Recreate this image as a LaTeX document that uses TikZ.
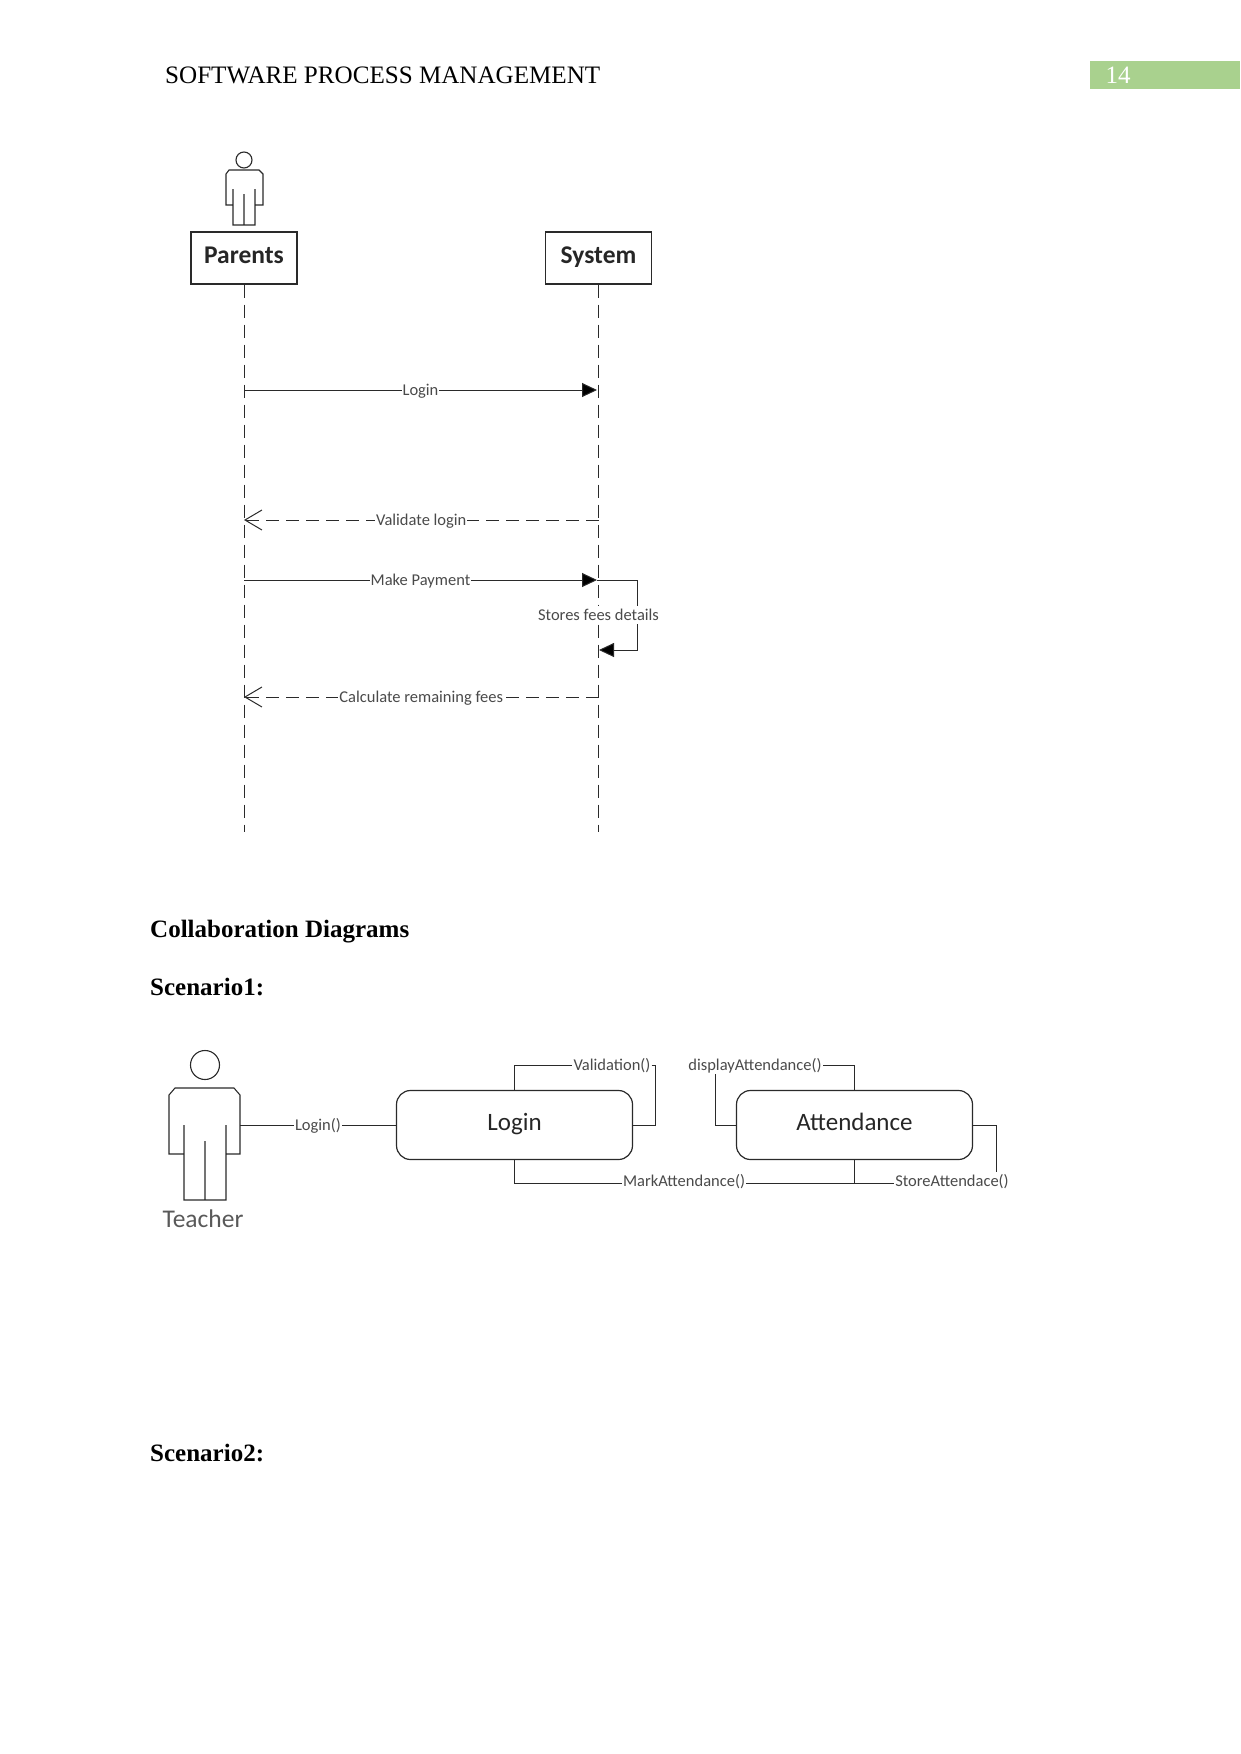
\documentclass[tikz,border=0pt]{standalone}
\usepackage{fontspec}
\setmainfont{Liberation Serif}
\newfontfamily\umlfont{Carlito}
\usetikzlibrary{arrows.meta}
\definecolor{bargreen}{HTML}{A9D18E}
\definecolor{umlline}{HTML}{2A2A2A}
\definecolor{msgtext}{HTML}{4A4A4A}
\begin{document}
\begin{tikzpicture}[
        x=1pt, y=-1pt,
        heading/.style={anchor=west, inner sep=0pt, font=\fontsize{25}{30}\selectfont\bfseries},
        actorline/.style={draw=umlline, line width=1.1pt},
        lifebox/.style={rectangle, draw=umlline, line width=1.3pt, minimum width=106pt, minimum height=52pt, text height=16pt, text depth=5pt, font=\umlfont\fontsize{25.5}{30}\selectfont\bfseries, text=black!85},
        statebox/.style={rectangle, rounded corners=14pt, draw=umlline, line width=1.2pt, minimum width=236pt, minimum height=69pt, text height=17pt, text depth=6pt, font=\umlfont\fontsize{25}{30}\selectfont, text=black!85},
        msg/.style={fill=white, inner sep=1pt, text height=14pt, text depth=2.5pt, text=msgtext, font=\umlfont\fontsize{16.5}{19}\selectfont},
        lifeline/.style={draw=umlline, line width=0.8pt, dash pattern=on 13pt off 7pt},
        link/.style={draw=umlline, line width=1pt},
        call/.style={link, -{Triangle[length=15pt, width=14pt, fill=black]}},
        reply/.style={link, dash pattern=on 13pt off 7pt, -{Straight Barb[length=17pt, width=20pt]}}
    ]
    \useasboundingbox (0,0) rectangle (1241,1754);

    % Page header
    \fill[bargreen] (1090,61) rectangle (1240,89);
    \node[anchor=west, inner sep=0pt, font=\fontsize{25.1}{30}\selectfont] (header) at (165,75) {SOFTWARE PROCESS MANAGEMENT};
    \node[text=white, inner sep=0pt, font=\fontsize{25}{30}\selectfont] (pageno) at (1118,75) {14};

    % Sequence diagram
    \draw[actorline] (244,160) circle (8);
    \draw[actorline] (233,189) -- (233,205) -- (226,205) -- (226,174) -- (229,170) -- (259,170) -- (263,174) -- (263,205) -- (255,205) -- (255,189)
        (233,205) -- (233,225) -- (255,225) -- (255,205) (244,194) -- (244,225);

    \node[lifebox] (parents) at (244,258) {Parents};
    \node[lifebox] (system) at (598.5,258) {System};
    \coordinate (parentsend) at (244,832);
    \coordinate (systemend) at (598.5,832);
    \draw[lifeline] (parents) -- (parentsend);
    \draw[lifeline] (system) -- (systemend);

    \coordinate (p1) at (244,390);
    \coordinate (s1) at (597,390);
    \coordinate (p2) at (244,520);
    \coordinate (s2) at (598.5,520);
    \coordinate (p3) at (244,580);
    \coordinate (s3) at (597,580);
    \coordinate (s4) at (599,650);
    \coordinate (p5) at (244,697);
    \coordinate (s5) at (598.5,697);

    \draw[call] (p1) -- node[msg] {Login} (s1);
    \draw[reply] (s2) -- node[msg] {Validate login} (p2);
    \draw[call] (p3) -- node[msg] {Make Payment} (s3);
    \draw[reply] (s5) -- node[msg] {Calculate remaining fees} (p5);

    % Self call on the system
    \node[msg] (stores) at (598.5,615) {Stores fees details};
    \coordinate (selftop) at (637,580);
    \coordinate (selfbot) at (637,650);
    \draw[link] (s3) -- (selftop) -- (selftop |- stores.north);
    \draw[call] (selfbot |- stores.south) -- (selfbot) -- (s4);

    % Section headings
    \node[heading] (collab) at (150,932) {Collaboration Diagrams};
    \node[heading] (scen1) at (150,987) {Scenario1:};
    \node[heading] (scen2) at (150,1453) {Scenario2:};

    % Collaboration diagram
    \draw[actorline] (205,1065) circle (14.5);
    \draw[actorline] (184,1125) -- (184,1154) -- (169,1154) -- (169,1095) -- (175,1088) -- (234,1088) -- (240,1095) -- (240,1154) -- (226,1154) -- (226,1125)
        (184,1154) -- (184,1200) -- (226,1200) -- (226,1154) (205,1141) -- (205,1200);
    \coordinate (teacher) at (240,1125);
    \node[inner sep=0pt, text=black!65, font=\umlfont\fontsize{25.5}{30}\selectfont] (teacherlabel) at (203,1219) {Teacher};

    \node[statebox] (login) at (514.5,1125) {Login};
    \node[statebox] (attendance) at (854.5,1125) {Attendance};

    \draw[link] (teacher) -- node[msg] {Login()} (login);

    \node[msg] (validation) at (612,1065) {Validation()};
    \node[msg] (display) at (755,1065) {displayAttendance()};
    \node[msg] (mark) at (684,1181) {MarkAttendance()};
    \node[msg] (store) at (952,1181) {StoreAttendace()};
    \coordinate (loginloop) at (655,1125);
    \coordinate (displayleft) at (715,1125);
    \coordinate (storeright) at (996,1125);
    \coordinate (belowboxes) at (684,1183);

    \draw[link] (login.north) |- (validation);
    \draw[link] (validation.east) -| (loginloop) -- (login.east);
    \draw[link] (attendance.north) |- (display);
    \draw[link] (attendance.west) -- (displayleft) -- (displayleft |- display.south);
    \draw[link] (login.south) |- (mark.west |- belowboxes);
    \draw[link] (attendance.south) |- (mark.east |- belowboxes);
    \draw[link] (attendance.south) |- (store.west |- belowboxes);
    \draw[link] (attendance.east) -- (storeright) -- (storeright |- store.north);

    \end{tikzpicture}
\end{document}
